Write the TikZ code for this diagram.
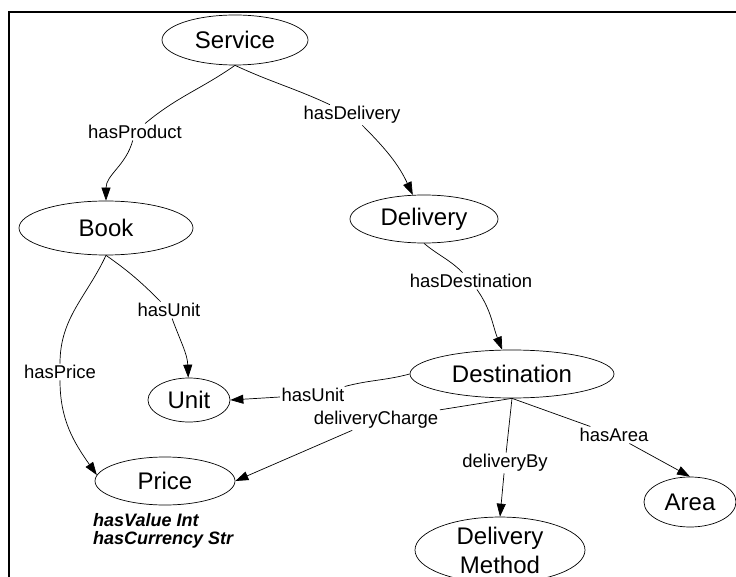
\documentclass[tikz,border=0pt]{standalone}
\usepackage{fontspec}
\setmainfont{Liberation Sans}
\usetikzlibrary{arrows.meta,shapes.geometric}

\begin{document}
\begin{tikzpicture}[x=1pt,y=1pt,
  concept/.style={ellipse,draw,line width=0.7pt,inner sep=0pt,align=center,
    font=\fontsize{24}{29}\selectfont},
  rel/.style={inner sep=1.5pt,font=\fontsize{18.5}{22}\selectfont},
  link/.style={line width=0.7pt},
  arc/.style={link,-{Triangle[length=13pt,width=9pt]}}]
  \useasboundingbox (0,0) rectangle (736,-577);
  \draw[line width=1.6pt] (9,-577) -- (9,-12) -- (736,-12);

  % classes
  \node[concept,minimum width=146pt,minimum height=50pt] (service)  at (235,-40)  {Service};
  \node[concept,minimum width=174pt,minimum height=54pt] (book)     at (106,-228) {Book};
  \node[concept,minimum width=148pt,minimum height=48pt] (delivery) at (424,-219) {Delivery};
  \node[concept,minimum width=204pt,minimum height=48pt] (dest)     at (512,-374) {Destination};
  \node[concept,minimum width=82pt,minimum height=44pt]  (unit)     at (189,-400) {Unit};
  \node[concept,minimum width=140pt,minimum height=48pt] (price)    at (165,-481) {Price};
  \node[concept,minimum width=92pt,minimum height=50pt]  (area)     at (690,-502) {Area};
  \node[concept,minimum width=170pt,minimum height=64pt] (method)   at (500,-550) {Delivery\\Method};

  % properties
  \node[rel] (hasProduct)     at (135,-132) {hasProduct};
  \node[rel] (hasDelivery)    at (352,-115) {hasDelivery};
  \node[rel] (hasDestination) at (471,-281) {hasDestination};
  \node[rel] (bookUnit)       at (169,-310) {hasUnit};
  \node[rel] (hasPrice)       at (60,-372)  {hasPrice};
  \node[rel] (destUnit)       at (313,-395) {hasUnit};
  \node[rel] (deliveryCharge) at (376,-420) {deliveryCharge};
  \node[rel] (deliveryBy)     at (505,-463) {deliveryBy};
  \node[rel] (hasArea)        at (614,-435) {hasArea};

  \node[anchor=west,align=left,inner sep=0pt,font=\fontsize{18}{18}\selectfont\bfseries\itshape]
    (priceAttr) at (93,-531) {hasValue Int\\hasCurrency Str};

  % edges
  \draw[link] (service.south) to[out=-145,in=40] (hasProduct);
  \draw[arc] (hasProduct) to[out=-105,in=90] (book);
  \draw[link] (service.south) to[out=-25,in=155] (hasDelivery);
  \draw[arc] (hasDelivery) to[out=-45,in=115] (delivery);
  \draw[link] (delivery.south) to[out=-40,in=135] (hasDestination);
  \draw[arc] (hasDestination) to[out=-55,in=112] (dest);
  \draw[link] (book.south) to[out=-35,in=135] (bookUnit);
  \draw[arc] (bookUnit) to[out=-70,in=92] (unit);
  \draw[link] (book.south) to[out=-115,in=90] (hasPrice);
  \draw[arc] (hasPrice) to[out=-90,in=125] (price.175);
  \draw[link] (dest.west) to[out=195,in=15] (destUnit);
  \draw[arc] (destUnit) -- (unit.east);
  \draw[link] (dest.south) -- (deliveryCharge);
  \draw[arc] (deliveryCharge) -- (price.east);
  \draw[link] (dest.south) -- (deliveryBy);
  \draw[arc] (deliveryBy) -- (method.north);
  \draw[link] (dest.south) -- (hasArea);
  \draw[arc] (hasArea) -- (area.north);
\end{tikzpicture}
\end{document}
